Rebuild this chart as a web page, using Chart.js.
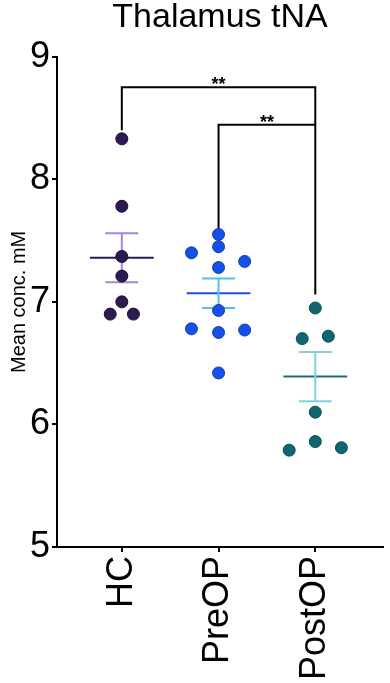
<!DOCTYPE html>
<html>
<head>
<meta charset="utf-8">
<script src="https://cdn.jsdelivr.net/npm/chart.js@4"></script>
<style>
  html, body { margin: 0; padding: 0; background: #fff; }
  #wrap { width: 390px; height: 683px; }
</style>
</head>
<body>
<div id="wrap"><canvas id="tnaChart" width="390" height="683"></canvas></div>
<script>
// groups and values
const groups = ['HC', 'PreOP', 'PostOP'];
const hcValues = [8.33, 7.78, 7.37, 7.21, 7.00, 6.90, 6.90];
const hcJitter = [0, 0, 0, 0, 0, -0.12, 0.12];
const preValues = [7.55, 7.45, 7.40, 7.33, 7.28, 6.93, 6.78, 6.75, 6.77, 6.42];
const preJitter = [0, 0, -0.28, 0.27, 0, 0, -0.28, 0, 0.27, 0];
const postValues = [6.95, 6.70, 6.72, 6.10, 5.86, 5.79, 5.81];
const postJitter = [0, -0.135, 0.135, 0, 0, -0.27, 0.27];
const groupMeans = [7.36, 7.07, 6.39];
const groupSem = [0.20, 0.12, 0.20];
const yTicks = [5, 6, 7, 8, 9];

// significance brackets
const sigPairs = [[0, 2], [1, 2]];
const sigLevels = [8.75, 8.445];
const sigFeet = [[8.40, 7.06], [7.60, 8.445]];
const sigLabels = ['**', '**'];

const dotFill = ['#2c1a50', '#1650e8', '#0f6670'];
const dotEdge = ['#1a0e35', '#0d3cb8', '#0a4c54'];
const meanColor = ['#2c1a50', '#1f4fd8', '#1c6e78'];
const semColor = ['#a486dc', '#4cc4f0', '#80d2da'];

const allValues = [hcValues, preValues, postValues];
const allJitter = [hcJitter, preJitter, postJitter];

const FONT = '"Liberation Sans", Arial, sans-serif';
const datasets = [];

// brackets
sigPairs.forEach((p, i) => {
  datasets.push({
    type: 'line',
    data: [
      { x: p[0], y: sigFeet[i][0] },
      { x: p[0], y: sigLevels[i] },
      { x: p[1], y: sigLevels[i] },
      { x: p[1], y: sigFeet[i][1] }
    ],
    borderColor: '#000',
    borderWidth: 2,
    pointRadius: 0,
    fill: false,
    tension: 0,
    order: 3
  });
});

// mean + sem
groups.forEach((g, i) => {
  const m = groupMeans[i], s = groupSem[i];
  datasets.push({
    type: 'line',
    data: [
      { x: i - 0.17, y: m + s }, { x: i + 0.17, y: m + s }, { x: i, y: null },
      { x: i, y: m + s }, { x: i, y: m - s }, { x: i, y: null },
      { x: i - 0.17, y: m - s }, { x: i + 0.17, y: m - s }
    ],
    borderColor: semColor[i],
    borderWidth: 2,
    pointRadius: 0,
    spanGaps: false,
    fill: false,
    order: 2
  });
  datasets.push({
    type: 'line',
    data: [{ x: i - 0.33, y: m }, { x: i + 0.33, y: m }],
    borderColor: meanColor[i],
    borderWidth: 2,
    pointRadius: 0,
    fill: false,
    order: 2
  });
});

// dots
groups.forEach((g, i) => {
  datasets.push({
    type: 'scatter',
    label: g,
    data: allValues[i].map((v, k) => ({ x: i + allJitter[i][k], y: v })),
    backgroundColor: dotFill[i],
    borderColor: dotEdge[i],
    borderWidth: 1,
    pointRadius: 6,
    order: 1
  });
});

const starLabels = {
  id: 'starLabels',
  afterDatasetsDraw(chart) {
    const ctx = chart.ctx;
    const xs = chart.scales.x, ys = chart.scales.y;
    ctx.save();
    ctx.fillStyle = '#000';
    ctx.font = 'bold 18px ' + FONT;
    ctx.textAlign = 'center';
    ctx.textBaseline = 'alphabetic';
    sigPairs.forEach((p, i) => {
      const x = xs.getPixelForValue((p[0] + p[1]) / 2);
      const y = ys.getPixelForValue(sigLevels[i]);
      ctx.fillText(sigLabels[i], x, y + 3);
    });
    ctx.restore();
  }
};

new Chart(document.getElementById('tnaChart'), {
  type: 'scatter',
  data: { datasets },
  plugins: [starLabels],
  options: {
    responsive: false,
    animation: false,
    layout: { padding: { left: 0, right: 2, top: 0, bottom: 0 } },
    plugins: {
      legend: { display: false },
      tooltip: { enabled: false },
      title: {
        display: true,
        text: 'Thalamus tNA',
        fullSize: false,
        color: '#000',
        font: { family: FONT, size: 34, weight: 'normal', lineHeight: 1.05 },
        padding: { top: 0, bottom: 21 }
      }
    },
    scales: {
      x: {
        type: 'linear',
        min: -0.67,
        max: 2.7,
        afterBuildTicks: axis => { axis.ticks = [0, 1, 2].map(v => ({ value: v })); },
        afterFit: axis => { axis.height = 136; },
        grid: { display: true, drawOnChartArea: false, drawTicks: true, tickLength: 5, color: '#000', lineWidth: 2 },
        border: { display: true, color: '#000', width: 2 },
        ticks: {
          color: '#000',
          minRotation: 90,
          maxRotation: 90,
          padding: 4,
          font: { family: FONT, size: 36 },
          callback: (v, idx) => groups[idx]
        }
      },
      y: {
        type: 'linear',
        min: 5,
        max: 9,
        afterBuildTicks: axis => { axis.ticks = yTicks.map(v => ({ value: v })); },
        afterFit: axis => { axis.width = 57; },
        grid: { display: true, drawOnChartArea: false, drawTicks: true, tickLength: 5, color: '#000', lineWidth: 2 },
        border: { display: true, color: '#000', width: 2 },
        ticks: {
          color: '#000',
          padding: 2,
          font: { family: FONT, size: 36 }
        },
        title: {
          display: true,
          text: 'Mean conc. mM',
          color: '#000',
          padding: { top: 7, bottom: 0 },
          font: { family: FONT, size: 20 }
        }
      }
    }
  }
});
</script>
</body>
</html>
